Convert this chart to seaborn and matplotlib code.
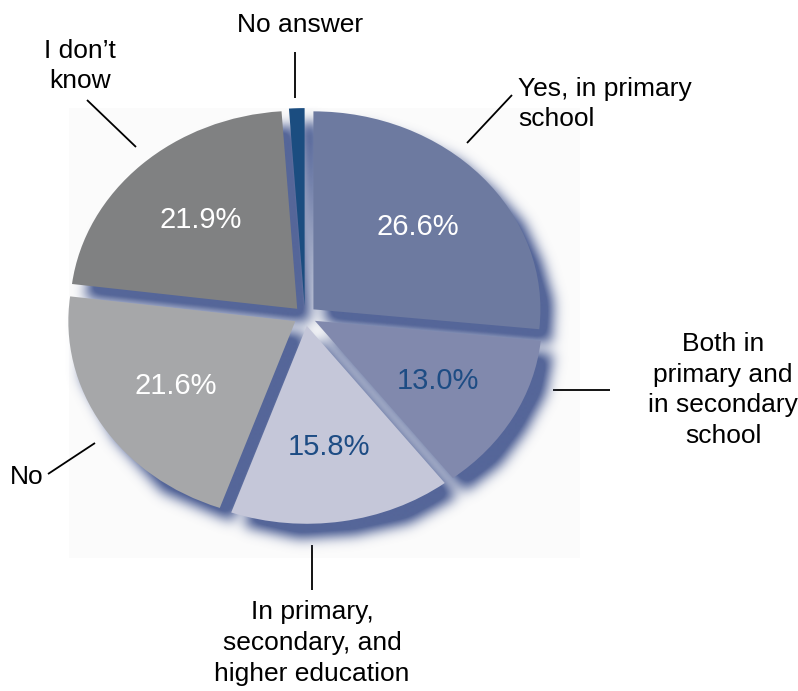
import numpy as np
import matplotlib
matplotlib.use("Agg")
import matplotlib.pyplot as plt
from matplotlib.patches import Rectangle
import seaborn as sns

# Survey answers, clockwise from 12 o'clock
categories = [
    "Yes, in primary\nschool",
    "Both in\nprimary and\nin secondary\nschool",
    "In primary,\nsecondary, and\nhigher education",
    "No",
    "I don\u2019t\nknow",
    "No answer",
]
shares = [26.6, 13.0, 15.8, 21.6, 21.9, 1.1]
slice_colors = ["#6d7aa0", "#8189ad", "#c5c7d9", "#a6a7a9", "#808182", "#1b4d80"]
pct_colors = ["white", "#1d4c84", "#1d4c84", "white", "white", None]

sns.set_theme(style="white")
plt.rcParams["font.family"] = ["Liberation Sans", "DejaVu Sans"]

W, H = 798, 691
fig = plt.figure(figsize=(W / 100, H / 100), dpi=100)
fig.patch.set_facecolor("white")

# overlay in pixel coordinates for the backdrop, callouts and leader lines
over = fig.add_axes([0, 0, 1, 1], zorder=0)
over.set_xlim(0, W)
over.set_ylim(H, 0)
over.axis("off")
over.add_patch(Rectangle((69, 108), 511, 450, facecolor="#fbfbfb", edgecolor="none"))

# pie axes: slightly flattened, centre at (305, 316) px
cx, cy = 305, 316
rx, ry = 227, 198
lim = 1.3
aw, ah = 2 * lim * rx, 2 * lim * ry
ax = fig.add_axes([(cx - aw / 2) / W, (H - cy - ah / 2) / H, aw / W, ah / H], zorder=1)
ax.patch.set_alpha(0)

explode = [0.05] * len(shares)
wedges, _ = ax.pie(
    shares,
    colors=slice_colors,
    explode=explode,
    startangle=90,
    counterclock=False,
    radius=1.0,
    wedgeprops=dict(linewidth=0, zorder=3),
)
ax.set_aspect("auto")
ax.set_xlim(-lim, lim)
ax.set_ylim(-lim, lim)
ax.axis("off")

# soft bluish drop shadow built from the wedge outlines
nx, ny = int(aw), int(ah)
gx = np.linspace(-lim, lim, nx)
gy = np.linspace(lim, -lim, ny)
XX, YY = np.meshgrid(gx, gy)
off_x, off_y = 12 / rx, -14 / ry
pts = np.column_stack([(XX - off_x).ravel(), (YY - off_y).ravel()])
mask = np.zeros(XX.size)
for w in wedges:
    mask = np.maximum(mask, w.get_path().contains_points(pts).astype(float))
mask = mask.reshape(ny, nx)


def gauss_blur(a, sigma):
    r = int(3 * sigma)
    t = np.arange(-r, r + 1)
    k = np.exp(-0.5 * (t / sigma) ** 2)
    k /= k.sum()
    a = np.apply_along_axis(lambda v: np.convolve(v, k, mode="same"), 1, a)
    a = np.apply_along_axis(lambda v: np.convolve(v, k, mode="same"), 0, a)
    return a


shadow = np.clip(gauss_blur(mask, 6.5) * 1.25, 0, 1)
rgba = np.zeros((ny, nx, 4))
rgba[..., 0], rgba[..., 1], rgba[..., 2] = 0x55 / 255, 0x66 / 255, 0x99 / 255
rgba[..., 3] = shadow
ax.imshow(rgba, extent=(-lim, lim, -lim, lim), origin="upper", aspect="auto",
          zorder=2, interpolation="bilinear")

# percentage labels inside the slices
for w, v, c in zip(wedges, shares, pct_colors):
    if c is None:
        continue
    mid = np.deg2rad(0.5 * (w.theta1 + w.theta2))
    r = 0.62
    px, py = w.center[0] + r * np.cos(mid), w.center[1] + r * np.sin(mid)
    ax.text(px, py, f"{v:.1f}%", color=c, fontsize=21, ha="center", va="center", zorder=5)

# category callouts with leader lines
callouts = [
    (categories[0], 518, 104, "left", [(512, 95), (467, 143)]),
    (categories[1], 723, 390, "center", [(553, 390), (610, 390)]),
    (categories[2], 312, 643, "center", [(312, 545), (312, 590)]),
    (categories[3], 27, 477, "center", [(48, 474), (95, 443)]),
    (categories[4], 80, 66, "center", [(87, 100), (136, 147)]),
    (categories[5], 300, 25, "center", [(295, 52), (295, 98)]),
]
for text, tx, ty, ha, seg in callouts:
    over.text(tx, ty, text, fontsize=19, ha=ha, va="center", color="black",
              multialignment="center" if ha == "center" else "left", linespacing=1.35)
    (x0, y0), (x1, y1) = seg
    over.plot([x0, x1], [y0, y1], color="black", lw=1.3, solid_capstyle="butt")

fig.savefig("out.png", dpi=100, facecolor="white")
